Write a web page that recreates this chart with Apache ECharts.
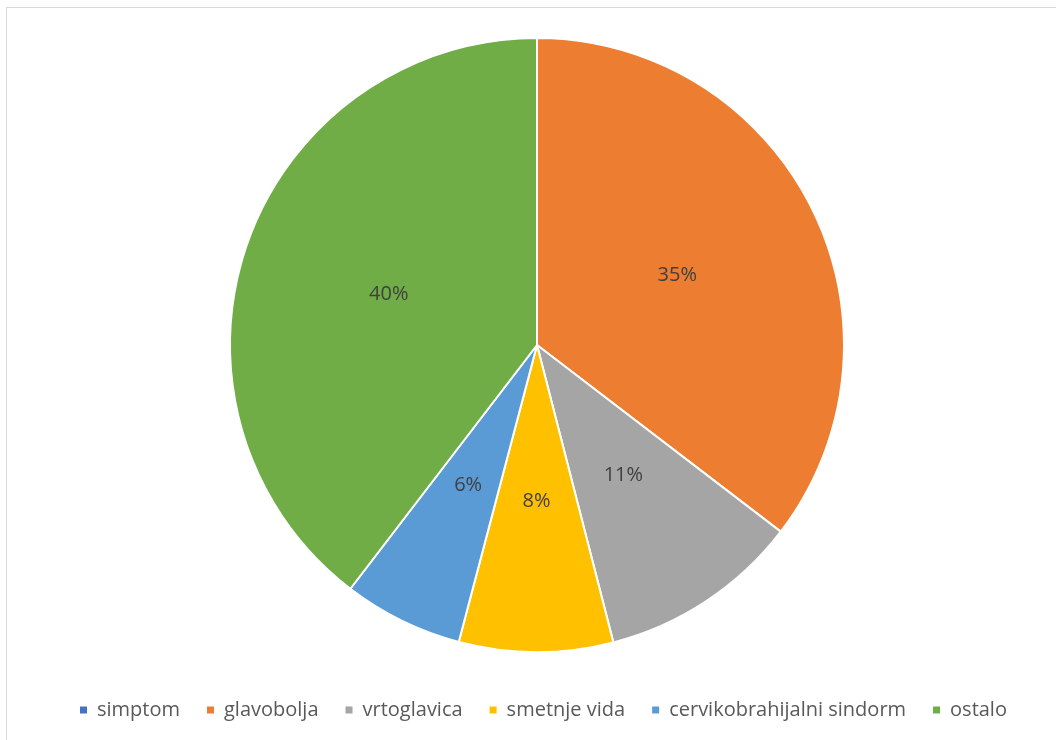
<!DOCTYPE html>
<html>
<head>
<meta charset="utf-8">
<script src="https://cdn.jsdelivr.net/npm/echarts@6/dist/echarts.min.js"></script>
<style>
  html, body { margin: 0; padding: 0; background: #fff; }
  #frame { position: absolute; left: 6px; top: 7px; width: 1060px; height: 750px; border: 1px solid #d9d9d9; box-sizing: border-box; }
  #main { position: absolute; left: 0; top: 0; width: 1056px; height: 740px; }
</style>
</head>
<body>
<div id="frame"></div>
<div id="main"></div>
<script>
// kategorije i udjeli (%)
var categories = ['simptom', 'glavobolja', 'vrtoglavica', 'smetnje vida', 'cervikobrahijalni sindorm', 'ostalo'];
var values = [0, 35.4, 10.6, 8.1, 6.3, 39.6];
var colors = ['#4472C4', '#ED7D31', '#A5A5A5', '#FFC000', '#5B9BD5', '#70AD47'];

var chart = echarts.init(document.getElementById('main'), null, { renderer: 'canvas' });

var pieData = [];
for (let i = 0; i < categories.length; i++) {
    pieData.push({
        name: categories[i],
        value: values[i],
        label: { show: values[i] > 0 }
    });
}

var option = {
    animation: false,
    color: colors,
    legend: {
        bottom: 15,
        left: 73,
        icon: 'rect',
        itemWidth: 9,
        itemHeight: 9,
        itemGap: 25,
        data: categories,
        textStyle: {
            fontFamily: 'Open Sans',
            fontSize: 20,
            color: '#595959',
            padding: [0, 0, 0, 4]
        }
    },
    series: [{
        type: 'pie',
        center: [537, 345],
        radius: [0, 307],
        startAngle: 90,
        clockwise: true,
        percentPrecision: 0,
        avoidLabelOverlap: false,
        stillShowZeroSum: false,
        itemStyle: {
            borderColor: '#fff',
            borderWidth: 2
        },
        label: {
            position: 'inside',
            formatter: '{d}%',
            fontFamily: 'Open Sans',
            fontSize: 20,
            color: '#404040'
        },
        labelLine: { show: false },
        emphasis: { disabled: true },
        data: pieData
    }]
};

chart.setOption(option);
</script>
</body>
</html>
